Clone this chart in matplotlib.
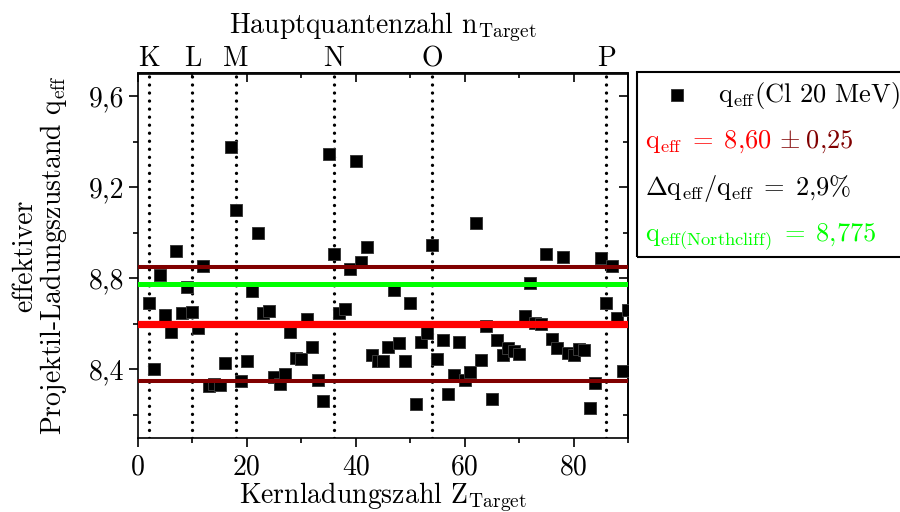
import matplotlib
matplotlib.use('Agg')
import matplotlib.pyplot as plt
from matplotlib.ticker import MultipleLocator, FuncFormatter, NullFormatter
from matplotlib.lines import Line2D
from matplotlib.patches import Rectangle

plt.rcParams['font.family'] = ['cmr10', 'DejaVu Serif']
plt.rcParams['mathtext.fontset'] = 'cm'
plt.rcParams['axes.unicode_minus'] = False

# ---------------- data ----------------
Z = [2, 3, 4, 5, 6, 7, 8, 9, 10, 11, 12, 13, 14, 15, 16, 17, 18, 19, 20,
     21, 22, 23, 24, 25, 26, 27, 28, 29, 30, 31, 32, 33, 34, 35, 36, 37, 38,
     39, 40, 41, 42, 43, 44, 45, 46, 47, 48, 49, 50, 51, 52, 53, 54, 55, 56,
     57, 58, 59, 60, 61, 62, 63, 64, 65, 66, 67, 68, 69, 70, 71, 72, 73, 74,
     75, 76, 77, 78, 79, 80, 81, 82, 83, 84, 85, 86, 87, 88, 89, 90]
q_eff = [8.69, 8.40, 8.815, 8.64, 8.563, 8.92, 8.65, 8.763, 8.652, 8.58,
         8.855, 8.325, 8.335, 8.331, 8.43, 9.376, 9.10, 8.35, 8.436,
         8.745, 9.00, 8.646, 8.656, 8.365, 8.334, 8.382, 8.565, 8.448, 8.445,
         8.62, 8.50, 8.353, 8.262, 9.346, 8.907, 8.646, 8.665,
         8.84, 9.315, 8.87, 8.936, 8.463, 8.436, 8.436, 8.50, 8.749, 8.514,
         8.436, 8.69, 8.246, 8.521, 8.561, 8.946, 8.445, 8.529,
         8.294, 8.375, 8.521, 8.353, 8.387, 9.042, 8.441, 8.592, 8.269, 8.529,
         8.463, 8.492, 8.48, 8.466, 8.636, 8.778, 8.605, 8.60,
         8.907, 8.532, 8.495, 8.895, 8.47, 8.463, 8.489, 8.485, 8.229, 8.34,
         8.888, 8.69, 8.855, 8.624, 8.394, 8.66]
shell_Z = [2, 10, 18, 36, 54, 86]
shell_labels = ['K', 'L', 'M', 'N', 'O', 'P']
q_mean = 8.60
q_err = 0.25
q_northcliff = 8.775

RED = '#ff0000'
DARKRED = '#800000'
GREEN = '#00ff00'
FS = 20

fig = plt.figure(figsize=(9, 5.12), dpi=100)
ax = fig.add_axes([138/900, 1-437.7/512, 490/900, (437.7-73.5)/512])

for z in shell_Z:
    ax.axvline(z, color='black', lw=2.4, ls=(0, (0.01, 2.4)),
               dash_capstyle='round', zorder=1)

ax.plot(Z, q_eff, ls='none', marker='s', ms=9, mfc='black', mec='#3a3a3a',
        mew=0.7, zorder=3)

ax.axhline(q_mean + q_err, color=DARKRED, lw=2.9, zorder=4)
ax.axhline(q_mean - q_err, color=DARKRED, lw=2.9, zorder=4)
ax.axhline(q_northcliff, color=GREEN, lw=3.6, zorder=4)
ax.axhline(q_mean, color=RED, lw=5.2, zorder=4)

ax.set_xlim(0, 90)
ax.set_ylim(8.1, 9.7)
ax.xaxis.set_major_locator(MultipleLocator(20))
ax.xaxis.set_minor_locator(MultipleLocator(10))
ax.yaxis.set_major_locator(MultipleLocator(0.4))
ax.yaxis.set_minor_locator(MultipleLocator(0.2))
ax.yaxis.set_major_formatter(FuncFormatter(lambda v, p: f'{v:.1f}'.replace('.', ',')))
ax.xaxis.set_major_formatter(FuncFormatter(lambda v, p: f'{v:.0f}'))
ax.tick_params(which='major', length=6.5, width=1.2, direction='out', labelsize=FS)
ax.tick_params(which='minor', length=3.6, width=1.2, direction='out')
ax.tick_params(axis='x', pad=5)
ax.tick_params(axis='y', pad=3)
for s in ax.spines.values():
    s.set_linewidth(1.2)

# inward mirrored ticks on top and right
top = ax.secondary_xaxis('top')
top.xaxis.set_major_locator(MultipleLocator(20))
top.xaxis.set_minor_locator(MultipleLocator(10))
top.xaxis.set_major_formatter(NullFormatter())
top.tick_params(which='major', length=6.5, width=1.2, direction='in')
top.tick_params(which='minor', length=3.6, width=1.2, direction='in')
right = ax.secondary_yaxis('right')
right.yaxis.set_major_locator(MultipleLocator(0.4))
right.yaxis.set_minor_locator(MultipleLocator(0.2))
right.yaxis.set_major_formatter(NullFormatter())
right.tick_params(which='major', length=6.5, width=1.2, direction='in')
right.tick_params(which='minor', length=3.6, width=1.2, direction='in')

shell = ax.secondary_xaxis('top')
shell.set_xticks(shell_Z, shell_labels)
shell.tick_params(length=0, labelsize=FS, pad=1)
shell.set_xlabel(r'Hauptquantenzahl $\mathrm{n}_{\mathrm{Target}}$', fontsize=FS, labelpad=9)
for a in (top, right, shell):
    for s in a.spines.values():
        s.set_linewidth(1.2)

ax.set_xlabel(r'Kernladungszahl $\mathrm{Z}_{\mathrm{Target}}$', fontsize=FS, labelpad=0)
ax.set_ylabel('effektiver\n' + r'Projektil-Ladungszustand $\mathrm{q}_{\mathrm{eff}}$',
              fontsize=FS, linespacing=1.0)
ax.yaxis.set_label_coords(-0.141, 0.5)

# ---------------- legend box ----------------
fig.add_artist(Rectangle((637/900, 1-257/512), 0.4, (257-72)/512,
                         transform=fig.transFigure, fill=False, lw=1.5,
                         edgecolor='black'))
fig.add_artist(Line2D([677/900], [1-95/512], transform=fig.transFigure,
                      ls='none', marker='s', ms=9, mfc='black', mec='#3a3a3a', mew=0.7))
LFS = 19
fig.text(718/900, 1-102/512, r'$\mathrm{q}_{\mathrm{eff}}$(Cl 20 MeV)',
         fontsize=LFS, va='baseline', ha='left', color='black')
y2 = 1 - 148/512
t_red = fig.text(645/900, y2, r'$\mathrm{q}_{\mathrm{eff}}\;=\;8{,}60$',
                 fontsize=LFS, va='baseline', ha='left', color=RED)
fig.add_artist(plt.Annotation(r'$\pm\;0{,}25$', xy=(1, y2),
                              xycoords=(t_red, 'figure fraction'),
                              xytext=(5, 0), textcoords='offset points',
                              fontsize=LFS, va='baseline', ha='left', color=DARKRED))
fig.text(645/900, 1-195/512,
         r'$\Delta\mathrm{q}_{\mathrm{eff}}/\mathrm{q}_{\mathrm{eff}}\;=\;2{,}9\%$',
         fontsize=LFS, va='baseline', ha='left', color='black')
fig.text(645/900, 1-242/512,
         r'$\mathrm{q}_{\mathrm{eff(Northcliff)}}\;=\;8{,}775$',
         fontsize=LFS, va='baseline', ha='left', color=GREEN)

fig.savefig('out.png', dpi=100)
